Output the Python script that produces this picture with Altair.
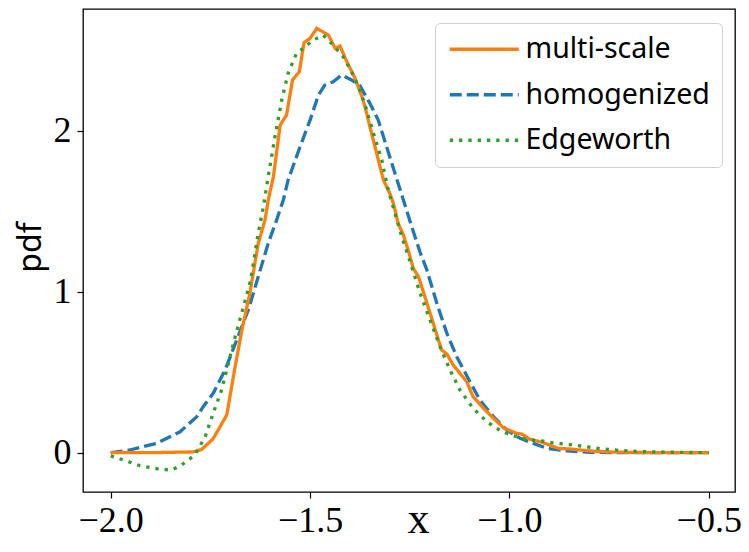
import altair as alt
import pandas as pd

# ---- data ----
names = ["multi-scale", "homogenized", "Edgeworth"]
colors = ["#ff7f0e", "#1f77b4", "#2ca02c"]
dashes = [[1, 0], [12, 5], [3.3, 6]]

ms_x = [-2.0, -1.9, -1.793, -1.772, -1.743, -1.709, -1.688, -1.671, -1.651, -1.630,
        -1.613, -1.605, -1.592, -1.575, -1.559, -1.544, -1.527, -1.515, -1.500, -1.483,
        -1.454, -1.437, -1.425, -1.408, -1.387, -1.370, -1.362, -1.350, -1.333, -1.316,
        -1.300, -1.291, -1.279, -1.266, -1.254, -1.241, -1.228, -1.212, -1.191, -1.178,
        -1.170, -1.157, -1.141, -1.107, -1.091, -1.065, -1.040, -1.015, -0.982, -0.969,
        -0.948, -0.923, -0.906, -0.877, -0.848, -0.798, -0.74, -0.65, -0.5]
ms_y = [0, 0, 0.005, 0.02, 0.087, 0.234, 0.534, 0.762, 0.99, 1.30,
        1.445, 1.568, 1.714, 2.035, 2.098, 2.315, 2.366, 2.547, 2.574, 2.636,
        2.594, 2.512, 2.526, 2.43, 2.325, 2.211, 2.149, 2.025, 1.860, 1.694,
        1.611, 1.549, 1.425, 1.352, 1.259, 1.145, 1.093, 0.969, 0.804, 0.700,
        0.638, 0.613, 0.545, 0.441, 0.348, 0.276, 0.214, 0.155, 0.120, 0.116,
        0.083, 0.068, 0.054, 0.027, 0.023, 0.011, 0.004, 0.001, 0]

hom_x = [-2.0, -1.952, -1.885, -1.826, -1.784, -1.768, -1.743, -1.713, -1.684, -1.655,
         -1.630, -1.605, -1.584, -1.567, -1.555, -1.525, -1.500, -1.479, -1.463, -1.442,
         -1.421, -1.396, -1.375, -1.350, -1.329, -1.308, -1.287, -1.266, -1.245, -1.224,
         -1.207, -1.182, -1.157, -1.132, -1.099, -1.074, -1.040, -1.007, -0.973, -0.940,
         -0.906, -0.856, -0.798, -0.723, -0.6, -0.5]
hom_y = [0, 0.017, 0.058, 0.130, 0.224, 0.286, 0.369, 0.514, 0.70, 0.886,
         1.093, 1.30, 1.445, 1.570, 1.694, 1.901, 2.066, 2.222, 2.284, 2.304,
         2.346, 2.315, 2.280, 2.170, 2.066, 1.901, 1.735, 1.570, 1.404, 1.245,
         1.135, 0.928, 0.742, 0.596, 0.441, 0.327, 0.224, 0.141, 0.089, 0.058,
         0.027, 0.011, 0.003, 0, 0, 0]

edg_x = [-2.0, -1.968, -1.927, -1.876, -1.847, -1.822, -1.789, -1.763, -1.743, -1.722,
         -1.705, -1.688, -1.667, -1.649, -1.630, -1.617, -1.605, -1.588, -1.571, -1.555,
         -1.534, -1.517, -1.492, -1.467, -1.442, -1.417, -1.396, -1.375, -1.358, -1.341,
         -1.320, -1.304, -1.287, -1.270, -1.249, -1.224, -1.199, -1.174, -1.149, -1.124,
         -1.091, -1.057, -1.036, -1.015, -0.990, -0.969, -0.944, -0.919, -0.894, -0.873,
         -0.848, -0.823, -0.798, -0.773, -0.752, -0.727, -0.702, -0.656, -0.605, -0.555,
         -0.5]
edg_y = [-0.02, -0.045, -0.08, -0.103, -0.107, -0.076, -0.014, 0.099, 0.245, 0.389,
         0.555, 0.72, 0.907, 1.073, 1.363, 1.528, 1.714, 1.963, 2.191, 2.357,
         2.481, 2.512, 2.563, 2.594, 2.532, 2.460, 2.366, 2.253, 2.129, 1.984,
         1.818, 1.632, 1.487, 1.342, 1.186, 0.99, 0.824, 0.658, 0.514, 0.389,
         0.276, 0.193, 0.158, 0.127, 0.106, 0.089, 0.079, 0.073, 0.062, 0.056,
         0.050, 0.042, 0.034, 0.025, 0.021, 0.015, 0.011, 0.006, 0.004, 0.002,
         0.0]

x_ticks = [-2.0, -1.5, -1.0, -0.5]
y_ticks = [0, 1, 2]

rows = []
for nm, xs, ys in [("multi-scale", ms_x, ms_y), ("homogenized", hom_x, hom_y),
                   ("Edgeworth", edg_x, edg_y)]:
    for i, (a, b) in enumerate(zip(xs, ys)):
        rows.append({"series": nm, "x": a, "y": b, "i": i})
df = pd.DataFrame(rows)

x_enc = alt.X("x:Q", scale=alt.Scale(domain=[-2.0695, -0.4342], nice=False, zero=False),
              axis=alt.Axis(values=x_ticks, format=".1f", title="x",
                            titleFont="Liberation Serif", titleFontSize=44,
                            titleFontWeight="normal", titleX=335, titleY=40,
                            titleBaseline="alphabetic", labelPadding=5))
y_enc = alt.Y("y:Q", scale=alt.Scale(domain=[-0.244, 2.756], nice=False, zero=False),
              axis=alt.Axis(values=y_ticks, format="d", title="pdf",
                            titleFont="Noto Sans", titleFontSize=32,
                            titleFontWeight="normal", titleX=-53, titleY=238,
                            titleBaseline="middle", titleAngle=270, labelPadding=6))
color_enc = alt.Color("series:N", scale=alt.Scale(domain=names, range=colors),
                      legend=alt.Legend(title=None))
dash_enc = alt.StrokeDash("series:N", scale=alt.Scale(domain=names, range=dashes),
                          legend=alt.Legend(title=None))

base = alt.Chart(df)


def layer(nm):
    return base.transform_filter(alt.datum.series == nm).mark_line(
        strokeWidth=3.3).encode(x=x_enc, y=y_enc, color=color_enc,
                                strokeDash=dash_enc, order="i:Q")


chart = alt.layer(layer("homogenized"), layer("multi-scale"), layer("Edgeworth")).properties(
    width=652, height=483,
    autosize=alt.AutoSizeParams(type="none"),
    padding={"left": 75, "top": 1, "right": 6, "bottom": 50},
).configure_view(stroke="black", strokeWidth=1.3).configure_axis(
    domain=False, grid=False, labelFont="Liberation Serif", labelFontSize=36,
    labelColor="black", tickColor="black", tickSize=6, tickWidth=1.2,
    titleColor="black",
).configure_legend(
    orient="none", legendX=352, legendY=14, padding=12,
    strokeColor="#d0d0d0", fillColor="rgba(255,255,255,0.8)", cornerRadius=5,
    symbolType="M-1,0H5", symbolSize=529, symbolStrokeWidth=3.3,
    labelFont="Noto Sans", labelFontSize=28.5, labelColor="black",
    labelOffset=50, rowPadding=16.5, labelLimit=400,
)

chart.save("out.html", embed_options={"renderer": "svg", "actions": False})
